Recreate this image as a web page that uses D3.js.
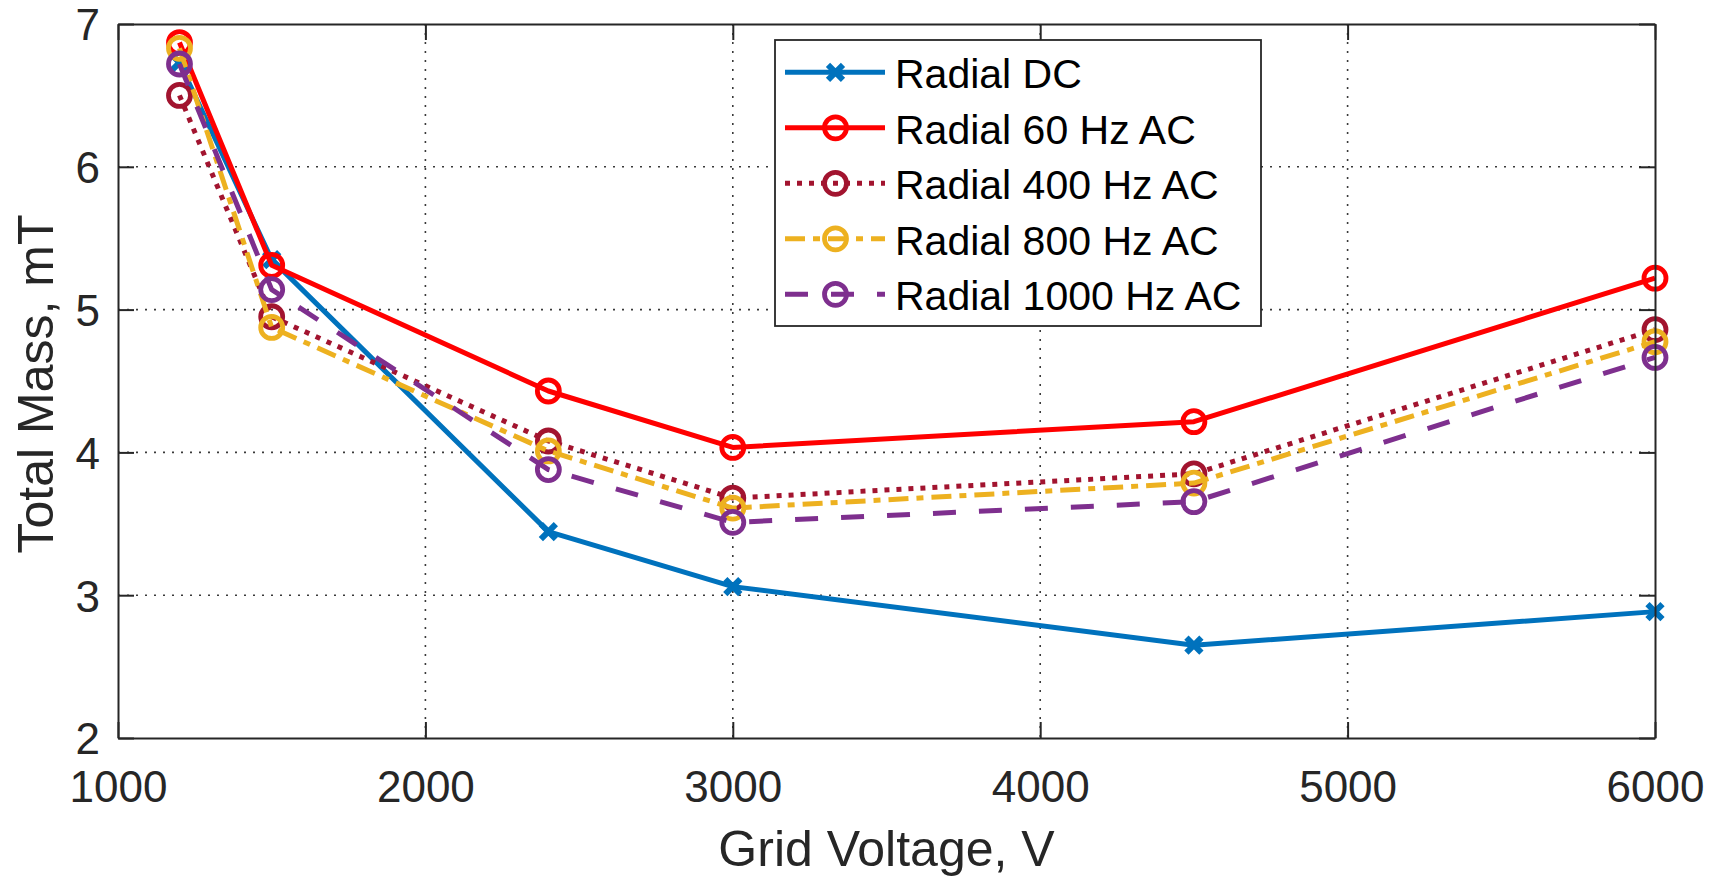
<!DOCTYPE html>
<html>
<head>
<meta charset="utf-8">
<script src="https://cdn.jsdelivr.net/npm/d3@7"></script>
<style>
  html, body { margin: 0; padding: 0; background: #fff; }
  svg { display: block; }
  text { font-family: "Liberation Sans", Arial, Helvetica, sans-serif; fill: #262626; }
</style>
</head>
<body>
<svg id="chart" width="1711" height="878"></svg>
<script>
// ---- data ----
const voltages = [1200, 1500, 2400, 3000, 4500, 6000];
const radialDC     = [6.73, 5.35, 3.445, 3.06, 2.65, 2.885];
const radial60Hz   = [6.87, 5.31, 4.43, 4.035, 4.215, 5.22];
const radial400Hz  = [6.50, 4.95, 4.08, 3.68, 3.85, 4.86];
const radial800Hz  = [6.83, 4.875, 4.01, 3.61, 3.785, 4.775];
const radial1000Hz = [6.72, 5.14, 3.88, 3.51, 3.655, 4.665];
const seriesNames = ["Radial DC", "Radial 60 Hz AC", "Radial 400 Hz AC", "Radial 800 Hz AC", "Radial 1000 Hz AC"];
const xTicks = [1000, 2000, 3000, 4000, 5000, 6000];
const yTicks = [2, 3, 4, 5, 6, 7];
const xLabel = "Grid Voltage, V";
const yLabel = "Total Mass, mT";

const series = [
  { name: seriesNames[0], values: radialDC,     color: "#0072BD", dash: null,          marker: "x" },
  { name: seriesNames[1], values: radial60Hz,   color: "#FF0000", dash: null,          marker: "o" },
  { name: seriesNames[2], values: radial400Hz,  color: "#A2142F", dash: "5,7",         marker: "o" },
  { name: seriesNames[3], values: radial800Hz,  color: "#EDB120", dash: "20,8,7,8",    marker: "o" },
  { name: seriesNames[4], values: radial1000Hz, color: "#7E2F8E", dash: "23,23",       marker: "o" }
];

// ---- layout ----
const svg = d3.select("#chart");
const L = 118, R = 1655, T = 24, B = 738;
const x = d3.scaleLinear().domain([1000, 6000]).range([L, R]);
const y = d3.scaleLinear().domain([2, 7]).range([B, T]);
const axisColor = "#262626";

// grid
const grid = svg.append("g");
grid.selectAll("line.gx").data(xTicks.slice(1, -1)).join("line")
  .attr("x1", d => x(d)).attr("x2", d => x(d)).attr("y1", T).attr("y2", B)
  .attr("stroke", "#3a3a3a").attr("stroke-width", 1.6).attr("stroke-dasharray", "2,7");
grid.selectAll("line.gy").data(yTicks.slice(1, -1)).join("line")
  .attr("x1", L).attr("x2", R).attr("y1", d => y(d)).attr("y2", d => y(d))
  .attr("stroke", "#3a3a3a").attr("stroke-width", 1.6).attr("stroke-dasharray", "2,7");

// data lines
const lw = 5;
const line = d3.line().x((d, i) => x(voltages[i])).y(d => y(d));
const plot = svg.append("g");
function drawMarker(g, type, cx, cy, color) {
  if (type === "o") {
    g.append("circle").attr("cx", cx).attr("cy", cy).attr("r", 11)
      .attr("fill", "none").attr("stroke", color).attr("stroke-width", 4.8);
  } else {
    const s = 7.5;
    g.append("path")
      .attr("d", `M${cx - s},${cy - s}L${cx + s},${cy + s}M${cx - s},${cy + s}L${cx + s},${cy - s}`)
      .attr("stroke", color).attr("stroke-width", 6).attr("fill", "none");
  }
}
series.forEach(s => {
  const g = plot.append("g");
  g.append("path").attr("d", line(s.values))
    .attr("fill", "none").attr("stroke", s.color).attr("stroke-width", lw)
    .attr("stroke-linejoin", "round")
    .attr("stroke-dasharray", s.dash);
  s.values.forEach((v, i) => drawMarker(g, s.marker, x(voltages[i]), y(v), s.color));
});

// axes
const fontTick = 44;
const ax = svg.append("g").attr("transform", `translate(0,${B})`)
  .call(d3.axisBottom(x).tickValues(xTicks).tickFormat(d3.format("d")).tickSizeInner(-16).tickSizeOuter(0));
ax.selectAll("text").attr("y", 64).attr("dy", 0).style("font-size", fontTick + "px");
const axTop = svg.append("g").attr("transform", `translate(0,${T})`)
  .call(d3.axisTop(x).tickValues(xTicks).tickSizeInner(-16).tickSizeOuter(0).tickFormat(""));
const ay = svg.append("g").attr("transform", `translate(${L},0)`)
  .call(d3.axisLeft(y).tickValues(yTicks).tickFormat(d3.format("d")).tickSizeInner(-16).tickSizeOuter(0).tickPadding(18));
ay.selectAll("text").attr("dy", "0.36em").style("font-size", fontTick + "px");
const ayR = svg.append("g").attr("transform", `translate(${R},0)`)
  .call(d3.axisRight(y).tickValues(yTicks).tickSizeInner(-16).tickSizeOuter(0).tickFormat(""));
[ax, axTop, ay, ayR].forEach(a => {
  a.selectAll("path.domain").attr("stroke", axisColor).attr("stroke-width", 2);
  a.selectAll(".tick line").attr("stroke", axisColor).attr("stroke-width", 2);
  a.selectAll("text").attr("fill", axisColor).style("font-family", '"Liberation Sans", Arial, sans-serif');
});

// axis titles
svg.append("text").attr("x", (L + R) / 2).attr("y", 866).attr("text-anchor", "middle")
  .style("font-size", "50px").text(xLabel);
svg.append("text").attr("transform", `translate(53,${(T + B) / 2 + 3}) rotate(-90)`)
  .attr("text-anchor", "middle").style("font-size", "50px").text(yLabel);

// legend
const lg = svg.append("g");
const lgX = 775, lgY = 40, lgW = 486, lgH = 286, rowH = 55.5, row0 = 72.3;
lg.append("rect").attr("x", lgX).attr("y", lgY).attr("width", lgW).attr("height", lgH)
  .attr("fill", "#fff").attr("stroke", axisColor).attr("stroke-width", 1.8);
series.forEach((s, i) => {
  const cy = row0 + i * rowH;
  const g = lg.append("g");
  g.append("line").attr("x1", 785).attr("x2", 885).attr("y1", cy).attr("y2", cy)
    .attr("stroke", s.color).attr("stroke-width", lw).attr("stroke-dasharray", s.dash);
  drawMarker(g, s.marker, 835.5, cy, s.color);
  g.append("text").attr("x", 895).attr("y", cy + 16).style("font-size", "41px").style("fill", "#000").text(s.name);
});
</script>
</body>
</html>
